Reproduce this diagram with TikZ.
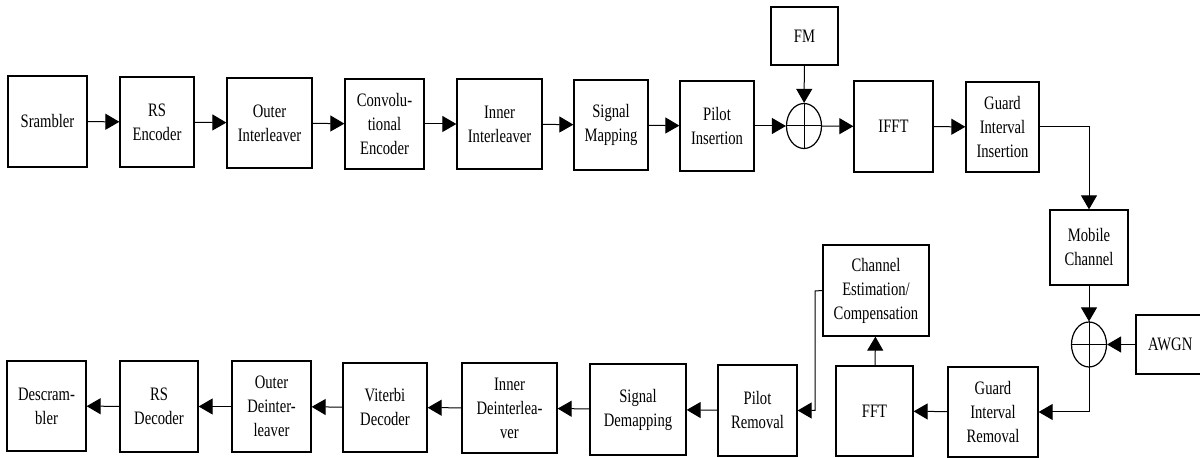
\documentclass[tikz,border=0pt]{standalone}
\usepackage{fontspec}
\setmainfont{Liberation Serif}[FakeStretch=0.77]
\usetikzlibrary{arrows.meta,shapes.geometric}

\begin{document}
\begin{tikzpicture}[x=0.5pt,y=-0.5pt,
  blk/.style={draw, line width=0.65pt, align=center, inner sep=1pt,
    font=\fontsize{9.5}{12}\selectfont},
  sumnode/.style={draw, ellipse, line width=0.6pt, minimum width=17.5pt,
    minimum height=22.5pt, inner sep=0pt},
  flow/.style={line width=0.5pt, -{Triangle[length=7pt,width=8pt]}},
  plain/.style={line width=0.5pt},
]
\useasboundingbox (0,0) rectangle (1200,458);

% ---------- transmitter chain ----------
\node[blk, minimum width=39.5pt, minimum height=45.5pt] (scr)  at (47.5,121.5) {Srambler};
\node[blk, minimum width=37pt,   minimum height=45pt]   (rse)  at (157,122)    {RS\\Encoder};
\node[blk, minimum width=42.5pt, minimum height=45pt]   (oil)  at (269.5,123)  {Outer\\Interleaver};
\node[blk, minimum width=39.5pt, minimum height=45pt]   (cenc) at (384.5,124)  {Convolu-\\tional\\Encoder};
\node[blk, minimum width=42.5pt, minimum height=45pt]   (iil)  at (499.5,124)  {Inner\\Interleaver};
\node[blk, minimum width=37pt,   minimum height=45pt]   (smap) at (611,125)    {Signal\\Mapping};
\node[blk, minimum width=37pt,   minimum height=45pt]   (pins) at (717,126)    {Pilot\\Insertion};
\node[sumnode] (sa) at (804,126) {};
\node[blk, minimum width=33.5pt, minimum height=29pt]   (fm)   at (804.5,36)   {FM};
\node[blk, minimum width=39.5pt, minimum height=45.5pt] (ifft) at (893.5,126.5) {IFFT};
\node[blk, minimum width=36.5pt, minimum height=45pt]   (gii)  at (1002.5,127) {Guard\\Interval\\Insertion};

% ---------- channel ----------
\node[blk, minimum width=39pt,   minimum height=37.5pt] (mob)  at (1089,247.5) {Mobile\\Channel};
\node[sumnode] (sb) at (1089,344.5) {};
% the noise source runs on past the right edge of the page
\node[blk, minimum width=40pt,   minimum height=29.5pt, text width=34pt, align=left] (awgn) at (1176,344.5) {\hspace*{3pt}AWGN};

% ---------- receiver chain ----------
\node[blk, minimum width=45pt,   minimum height=45pt]   (gir)  at (993,412)    {Guard\\Interval\\Removal};
\node[blk, minimum width=38.5pt, minimum height=45pt]   (fft)  at (874.5,411)  {FFT};
\node[blk, minimum width=53pt,   minimum height=45.5pt] (che)  at (876,290.5)  {Channel\\Estimation/\\Compensation};
\node[blk, minimum width=39.5pt, minimum height=45.5pt] (pr)   at (757.5,410.5) {Pilot\\Removal};
\node[blk, minimum width=48pt,   minimum height=45.5pt] (sdm)  at (638,409.5)  {Signal\\Demapping};
\node[blk, minimum width=47.5pt, minimum height=45pt]   (idl)  at (509.5,408)  {Inner\\Deinterlea-\\ver};
\node[blk, minimum width=42pt,   minimum height=44.5pt] (vit)  at (385,407.5)  {Viterbi\\Decoder};
\node[blk, minimum width=39.5pt, minimum height=45.5pt] (odl)  at (271.5,406.5) {Outer\\Deinter-\\leaver};
\node[blk, minimum width=39pt,   minimum height=45.5pt] (rsd)  at (159,406.5)  {RS\\Decoder};
\node[blk, minimum width=39.5pt, minimum height=45pt]   (dsc)  at (46.5,406)   {Descram-\\bler};

\coordinate (cebend) at (815,291);

% plus signs inside the adders
\draw[plain] (sa.north) -- (sa.south) (sa.west) -- (sa.east);
\draw[plain] (sb.north) -- (sb.south) (sb.west) -- (sb.east);

% ---------- connectors ----------
\draw[flow] (scr)  -- (rse);
\draw[flow] (rse)  -- (oil);
\draw[flow] (oil)  -- (cenc);
\draw[flow] (cenc) -- (iil);
\draw[flow] (iil)  -- (smap);
\draw[flow] (smap) -- (pins);
\draw[flow] (pins) -- (sa);
\draw[flow] (fm)   -- (sa);
\draw[flow] (sa)   -- (ifft);
\draw[flow] (ifft) -- (gii);
\draw[flow] (gii.east) -| (mob.north);
\draw[flow] (mob)  -- (sb);
\draw[flow] (awgn) -- (sb);
\draw[flow] (sb.south) |- (gir.east);
\draw[flow] (gir)  -- (fft);
\draw[flow] (fft)  -- (che);
\draw[flow] (che.west) -- (cebend) |- (pr.east);
\draw[flow] (pr)   -- (sdm);
\draw[flow] (sdm)  -- (idl);
\draw[flow] (idl)  -- (vit);
\draw[flow] (vit)  -- (odl);
\draw[flow] (odl)  -- (rsd);
\draw[flow] (rsd)  -- (dsc);
\end{tikzpicture}
\end{document}
